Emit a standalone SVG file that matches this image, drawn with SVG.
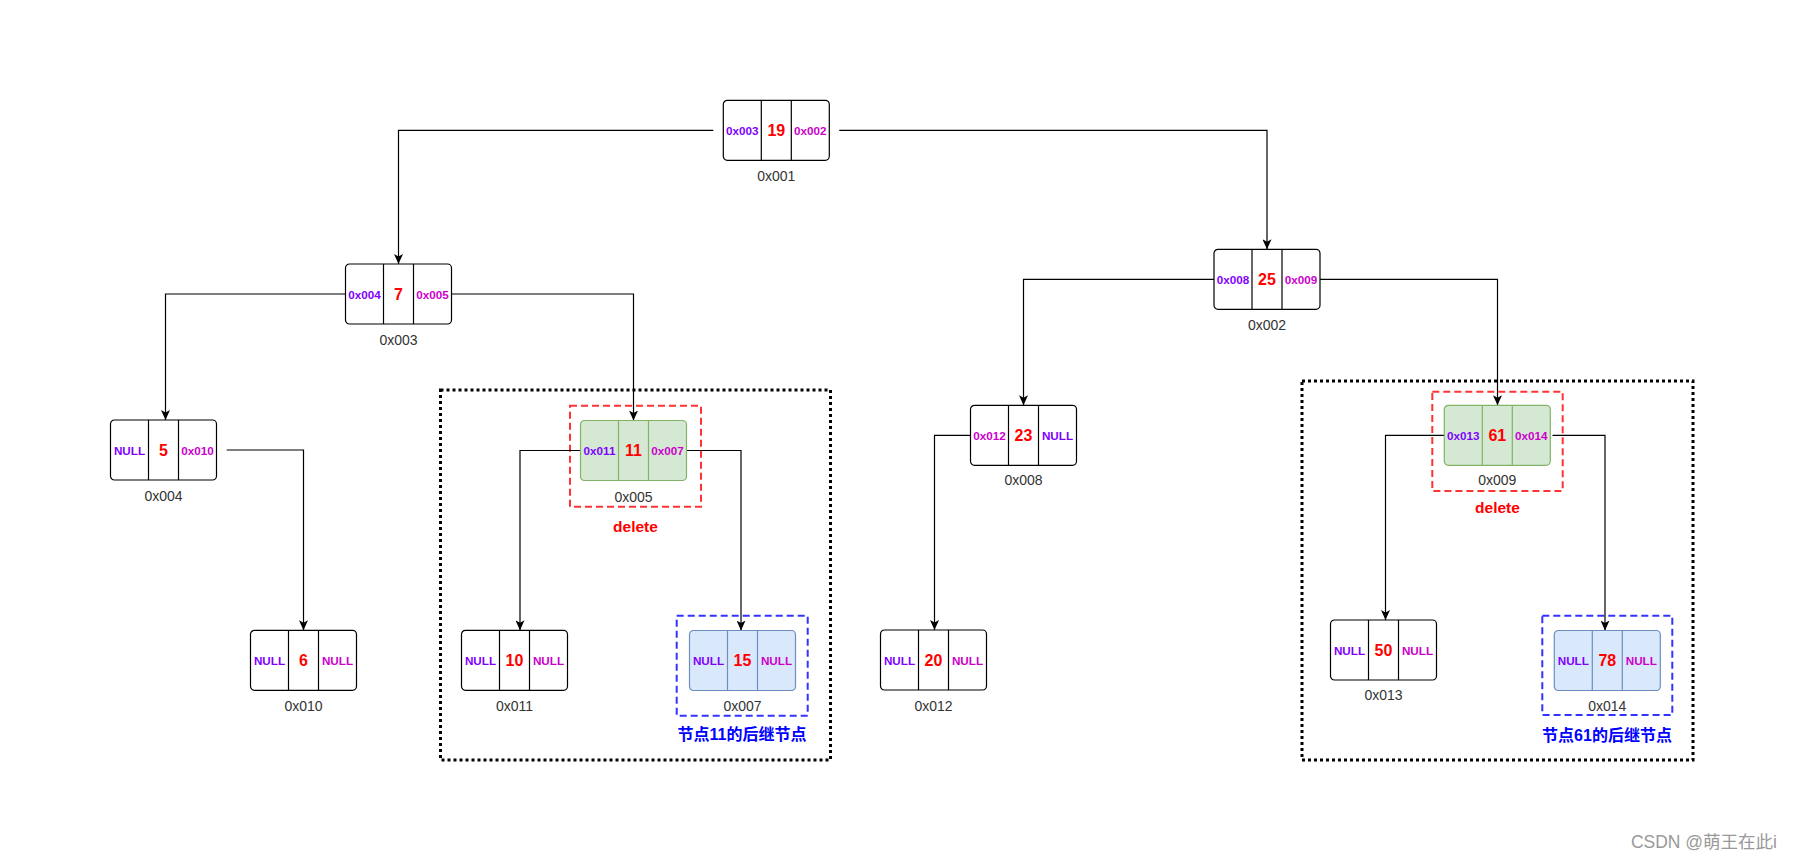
<svg xmlns="http://www.w3.org/2000/svg" width="1794" height="862" viewBox="0 0 1794 862">
<defs>
<marker id="arr" markerUnits="userSpaceOnUse" markerWidth="10" markerHeight="9" refX="10" refY="4.5" orient="auto">
<path d="M0,0 L10,4.5 L0,9 L2.5,4.5 z" fill="#000"/>
</marker>
</defs>
<style>
text{font-family:"Liberation Sans",Arial,sans-serif;text-anchor:middle;dominant-baseline:central}
.box{fill:#fff;stroke:#000;stroke-width:1.2}
.div{stroke:#000;stroke-width:1.2}
.g .box{fill:#d5e8d4;stroke:#82b366}
.g .div{stroke:#82b366}
.b .box{fill:#dae8fc;stroke:#6c8ebf}
.b .div{stroke:#6c8ebf}
.pl{font-size:11.7px;font-weight:bold;fill:#7f00ff}
.pr{font-size:11.7px;font-weight:bold;fill:#cc00cc}
.v{font-size:16px;font-weight:bold;fill:#ff0000}
.lab{font-size:14px;fill:#333}
.edge{fill:none;stroke:#000;stroke-width:1.2;marker-end:url(#arr)}
.dot{fill:none;stroke:#000;stroke-width:3;stroke-dasharray:3 3}
.red{fill:none;stroke:#ff3333;stroke-width:2;stroke-dasharray:7 4}
.blu{fill:none;stroke:#3333ff;stroke-width:2;stroke-dasharray:7 4}
.del{font-size:15.5px;font-weight:bold;fill:#ff0000}
.cn{font-size:16px;font-weight:bold;fill:#0000ff;font-family:"Liberation Sans","Noto Sans CJK SC",sans-serif}
.wm{font-size:17.5px;fill:#999;text-anchor:end;font-family:"Liberation Sans","Noto Sans CJK SC",sans-serif}
</style>

<g id="frames">
<rect class="dot" x="440.5" y="390" width="390" height="370"/>
<rect class="dot" x="1302" y="381" width="391" height="379"/>
<rect class="red" x="570" y="405.7" width="131" height="101"/>
<rect class="red" x="1432.3" y="391.7" width="130.4" height="99.3"/>
<rect class="blu" x="676.7" y="615.7" width="131" height="100"/>
<rect class="blu" x="1542.3" y="615.7" width="130" height="99.3"/>
<text class="del" x="635.5" y="526">delete</text>
<text class="del" x="1497.5" y="507">delete</text>
<text class="cn" x="742" y="734">节点11的后继节点</text>
<text class="cn" x="1607" y="735">节点61的后继节点</text>
</g>

<g id="connectors">
<path class="edge" d="M713.3,130.3 H398.5 V264"/>
<path class="edge" d="M839.3,130.3 H1267 V249.3"/>
<path class="edge" d="M345.5,294 H165.5 V420"/>
<path class="edge" d="M451.5,294 H633.5 V420.5"/>
<path class="edge" d="M226.7,450 H303.5 V630.3"/>
<path class="edge" d="M580.5,450.5 H520 V630.3"/>
<path class="edge" d="M686.5,450.5 H741 V630.5"/>
<path class="edge" d="M1214,279.3 H1023.5 V405.3"/>
<path class="edge" d="M1320,279.3 H1497.5 V405.3"/>
<path class="edge" d="M970.5,435.3 H934.5 V630"/>
<path class="edge" d="M1444.3,435.3 H1385.5 V620"/>
<path class="edge" d="M1552.5,435.3 H1605 V630.5"/>
</g>

<g id="n001" transform="translate(723.3,100.3)">
<rect class="box" width="106" height="60" rx="4"/><line class="div" x1="38" y1="0" x2="38" y2="60"/><line class="div" x1="68" y1="0" x2="68" y2="60"/>
<text class="pl" x="19" y="30">0x003</text><text class="v" x="53" y="30">19</text><text class="pr" x="87" y="30">0x002</text>
<text class="lab" x="53" y="76">0x001</text>
</g>

<g id="n003" transform="translate(345.5,264)">
<rect class="box" width="106" height="60" rx="4"/><line class="div" x1="38" y1="0" x2="38" y2="60"/><line class="div" x1="68" y1="0" x2="68" y2="60"/>
<text class="pl" x="19" y="30">0x004</text><text class="v" x="53" y="30">7</text><text class="pr" x="87" y="30">0x005</text>
<text class="lab" x="53" y="75.5">0x003</text>
</g>

<g id="n002" transform="translate(1214,249.3)">
<rect class="box" width="106" height="60" rx="4"/><line class="div" x1="38" y1="0" x2="38" y2="60"/><line class="div" x1="68" y1="0" x2="68" y2="60"/>
<text class="pl" x="19" y="30">0x008</text><text class="v" x="53" y="30">25</text><text class="pr" x="87" y="30">0x009</text>
<text class="lab" x="53" y="75.7">0x002</text>
</g>

<g id="n004" transform="translate(110.5,420)">
<rect class="box" width="106" height="60" rx="4"/><line class="div" x1="38" y1="0" x2="38" y2="60"/><line class="div" x1="68" y1="0" x2="68" y2="60"/>
<text class="pl" x="19" y="30">NULL</text><text class="v" x="53" y="30">5</text><text class="pr" x="87" y="30">0x010</text>
<text class="lab" x="53" y="76">0x004</text>
</g>

<g id="n005" class="g" transform="translate(580.5,420.5)">
<rect class="box" width="106" height="60" rx="4"/><line class="div" x1="38" y1="0" x2="38" y2="60"/><line class="div" x1="68" y1="0" x2="68" y2="60"/>
<text class="pl" x="19" y="30">0x011</text><text class="v" x="53" y="30">11</text><text class="pr" x="87" y="30">0x007</text>
<text class="lab" x="53" y="76.2">0x005</text>
</g>

<g id="n008" transform="translate(970.5,405.3)">
<rect class="box" width="106" height="60" rx="4"/><line class="div" x1="38" y1="0" x2="38" y2="60"/><line class="div" x1="68" y1="0" x2="68" y2="60"/>
<text class="pr" x="19" y="30">0x012</text><text class="v" x="53" y="30">23</text><text class="pl" x="87" y="30">NULL</text>
<text class="lab" x="53" y="74.5">0x008</text>
</g>

<g id="n009" class="g" transform="translate(1444.3,405.3)">
<rect class="box" width="106" height="60" rx="4"/><line class="div" x1="38" y1="0" x2="38" y2="60"/><line class="div" x1="68" y1="0" x2="68" y2="60"/>
<text class="pl" x="19" y="30">0x013</text><text class="v" x="53" y="30">61</text><text class="pr" x="87" y="30">0x014</text>
<text class="lab" x="53" y="75">0x009</text>
</g>

<g id="n010" transform="translate(250.5,630.3)">
<rect class="box" width="106" height="60" rx="4"/><line class="div" x1="38" y1="0" x2="38" y2="60"/><line class="div" x1="68" y1="0" x2="68" y2="60"/>
<text class="pl" x="19" y="30">NULL</text><text class="v" x="53" y="30">6</text><text class="pr" x="87" y="30">NULL</text>
<text class="lab" x="53" y="76">0x010</text>
</g>

<g id="n011" transform="translate(461.5,630.3)">
<rect class="box" width="106" height="60" rx="4"/><line class="div" x1="38" y1="0" x2="38" y2="60"/><line class="div" x1="68" y1="0" x2="68" y2="60"/>
<text class="pl" x="19" y="30">NULL</text><text class="v" x="53" y="30">10</text><text class="pr" x="87" y="30">NULL</text>
<text class="lab" x="53" y="76">0x011</text>
</g>

<g id="n007" class="b" transform="translate(689.5,630.5)">
<rect class="box" width="106" height="60" rx="4"/><line class="div" x1="38" y1="0" x2="38" y2="60"/><line class="div" x1="68" y1="0" x2="68" y2="60"/>
<text class="pl" x="19" y="30">NULL</text><text class="v" x="53" y="30">15</text><text class="pr" x="87" y="30">NULL</text>
<text class="lab" x="53" y="75.5">0x007</text>
</g>

<g id="n012" transform="translate(880.5,630)">
<rect class="box" width="106" height="60" rx="4"/><line class="div" x1="38" y1="0" x2="38" y2="60"/><line class="div" x1="68" y1="0" x2="68" y2="60"/>
<text class="pl" x="19" y="30">NULL</text><text class="v" x="53" y="30">20</text><text class="pr" x="87" y="30">NULL</text>
<text class="lab" x="53" y="75.5">0x012</text>
</g>

<g id="n013" transform="translate(1330.5,620)">
<rect class="box" width="106" height="60" rx="4"/><line class="div" x1="38" y1="0" x2="38" y2="60"/><line class="div" x1="68" y1="0" x2="68" y2="60"/>
<text class="pl" x="19" y="30">NULL</text><text class="v" x="53" y="30">50</text><text class="pr" x="87" y="30">NULL</text>
<text class="lab" x="53" y="75">0x013</text>
</g>

<g id="n014" class="b" transform="translate(1554.3,630.5)">
<rect class="box" width="106" height="60" rx="4"/><line class="div" x1="38" y1="0" x2="38" y2="60"/><line class="div" x1="68" y1="0" x2="68" y2="60"/>
<text class="pl" x="19" y="30">NULL</text><text class="v" x="53" y="30">78</text><text class="pr" x="87" y="30">NULL</text>
<text class="lab" x="53" y="75.5">0x014</text>
</g>

<text class="wm" x="1777" y="842">CSDN @萌王在此i</text>
</svg>
